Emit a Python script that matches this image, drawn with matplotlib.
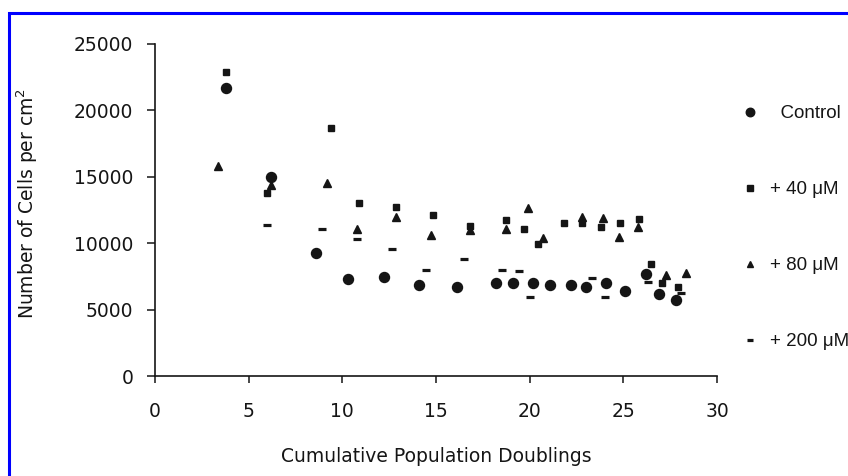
import matplotlib
matplotlib.use("Agg")
import matplotlib.pyplot as plt
from matplotlib.patches import Rectangle

# values
control_x = [3.8, 6.2, 8.6, 10.3, 12.2, 14.1, 16.1, 18.2, 19.1, 20.2, 21.1, 22.2, 23.0, 24.1, 25.1, 26.2, 26.9, 27.8]
control_y = [21650, 15000, 9250, 7300, 7430, 6850, 6720, 6980, 6980, 6980, 6850, 6890, 6720, 6980, 6400, 7650, 6150, 5700]

uM40_x = [3.8, 6.0, 9.4, 10.9, 12.85, 14.85, 16.8, 18.75, 19.7, 20.45, 21.85, 22.8, 23.8, 24.8, 25.85, 26.5, 27.05, 27.9]
uM40_y = [22900, 13800, 18650, 13000, 12750, 12100, 11300, 11750, 11100, 9950, 11500, 11500, 11250, 11550, 11850, 8450, 6980, 6720]

uM80_x = [3.35, 6.2, 9.2, 10.8, 12.85, 14.75, 16.8, 18.75, 19.9, 20.7, 22.8, 23.9, 24.75, 25.8, 27.3, 28.35]
uM80_y = [15850, 14400, 14500, 11050, 12000, 10600, 11000, 11050, 12650, 10400, 12000, 11900, 10450, 11250, 7600, 7750]

uM200_x = [6.0, 8.9, 10.8, 12.65, 14.45, 16.5, 18.5, 19.45, 20.0, 23.35, 24.0, 26.3, 28.1]
uM200_y = [11400, 11100, 10300, 9550, 8000, 8800, 8000, 7900, 5950, 7350, 5950, 7080, 6250]

labels = ["  Control", "+ 40 \u03bcM", "+ 80 \u03bcM", "+ 200 \u03bcM"]
x_ticks = [0, 5, 10, 15, 20, 25, 30]
y_ticks = [0, 5000, 10000, 15000, 20000, 25000]

INK = "#151515"
plt.rcParams["font.family"] = ["DejaVu Sans"]
plt.rcParams["font.size"] = 13.5

fig = plt.figure(figsize=(8.48, 4.76), dpi=100)
ax = fig.add_axes([155 / 848, 1 - 376 / 476, 562 / 848, 332 / 476])

ax.plot(control_x, control_y, "o", ms=7.2, color=INK, ls="none", label=labels[0])
ax.plot(uM40_x, uM40_y, "s", ms=5.0, color=INK, ls="none", label=labels[1])
ax.plot(uM80_x, uM80_y, "^", ms=5.8, color=INK, ls="none", label=labels[2])
ax.plot(uM200_x, uM200_y, "_", ms=5.2, mew=2.3, color=INK, ls="none", label=labels[3])

ax.set_xlim(0, 30)
ax.set_ylim(0, 25000)
ax.set_xticks(x_ticks)
ax.set_yticks(y_ticks)
ax.tick_params(axis="x", direction="out", length=5, width=1.1, pad=13.5, colors=INK)
ax.tick_params(axis="y", direction="out", length=5.5, width=1.1, pad=10, colors=INK)
for s in ("top", "right"):
    ax.spines[s].set_visible(False)
for s in ("left", "bottom"):
    ax.spines[s].set_linewidth(1.2)
    ax.spines[s].set_color(INK)

ax.set_xlabel("Cumulative Population Doublings", color=INK)
ax.xaxis.set_label_coords(0.5, -0.215)
ax.set_ylabel("Number of Cells per cm$^2$", color=INK)
ax.yaxis.set_label_coords(-0.205, 0.52)

leg = fig.legend(loc="upper left", bbox_to_anchor=(741 / 848, 1 - 105 / 476),
                 frameon=False, borderpad=0, borderaxespad=0, handlelength=1.0,
                 handletextpad=0.55, labelspacing=3.14, markerscale=0.85,
                 prop={"family": "Liberation Sans", "size": 13.5})
for t in leg.get_texts():
    t.set_color(INK)

# blue frame around the figure (right/bottom edges run off the image)
fig.patches.append(Rectangle((9 / 848, -0.1), 2.0, 1.1 - 13 / 476, transform=fig.transFigure,
                             fill=False, edgecolor="#0000ff", linewidth=2.2, zorder=10))

fig.savefig("out.png", dpi=100)
